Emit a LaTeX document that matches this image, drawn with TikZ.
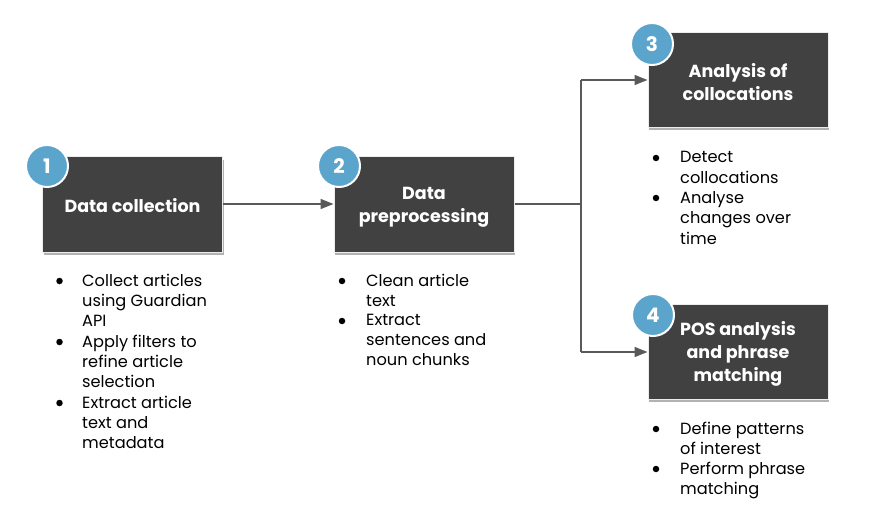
\documentclass[tikz,border=0pt]{standalone}
\usepackage{fontspec}
\setmainfont{Poppins}
\usetikzlibrary{arrows.meta,shadows}
\definecolor{boxfill}{HTML}{414141}
\definecolor{circfill}{HTML}{5BA4CB}
\definecolor{arrowgray}{HTML}{595959}
\tikzset{
  stepbox/.style={draw=white!85!gray, line width=1pt, fill=boxfill, minimum width=180pt, minimum height=95pt,
    inner sep=0pt, text=white, align=center, font=\fontsize{17.5}{23}\selectfont\bfseries,
    drop shadow={shadow xshift=1pt, shadow yshift=-3pt, opacity=0.3, fill=black}},
  boxtitle/.style={inner sep=0pt, text=white, align=center, font=\fontsize{17.5}{23}\selectfont\bfseries},
  numcirc/.style={circle, fill=circfill, draw=white, line width=2pt, minimum size=42pt, inner sep=0pt,
    text=white, font=\fontsize{20}{20}\selectfont\bfseries},
  bullets/.style={anchor=north west, inner sep=0pt, align=left, font=\fontsize{16.2}{20.3}\selectfont, text=black},
  dot/.style={circle, fill=black, minimum size=6.5pt, inner sep=0pt},
  conn/.style={draw=arrowgray, line width=1.5pt, -{Triangle[length=13pt,width=10pt]}},
  seg/.style={draw=arrowgray, line width=1.5pt}
}
\begin{document}
\begin{tikzpicture}[x=1pt,y=-1pt]
\useasboundingbox (0,0) rectangle (876,532);
% boxes
\node[stepbox] (b1) at (132.5,204.5) {};
\node[stepbox] (b2) at (424,204.5) {};
\node[stepbox] (b3) at (738,80) {};
\node[stepbox] (b4) at (738,351.5) {};
\node[boxtitle] (l1) at ([yshift=-1.5pt]b1.center) {Data collection};
\node[boxtitle] (l2) at ([yshift=-2.5pt]b2.center) {Data\\preprocessing};
\node[boxtitle] (l3) at ([yshift=-2pt]b3.center) {Analysis of\\collocations};
\node[boxtitle] (l4) at ([yshift=-2pt]b4.center) {POS analysis\\and phrase\\matching};
% numbers
\node[numcirc] (c1) at (47,166) {1};
\node[numcirc] (c2) at (339,166) {2};
\node[numcirc] (c3) at (652,44) {3};
\node[numcirc] (c4) at (653,315) {4};
% connectors
\coordinate (j) at (581,204);
\coordinate (j3) at (581,80);
\coordinate (j4) at (581,352);
\draw[conn] (b1.east |- 0,204) -- (b2.west |- 0,204);
\draw[seg] (b2.east |- j) -- (j);
\draw[seg] (j3) -- (j4);
\draw[conn] (j3) -- (b3.west |- j3);
\draw[conn] (j4) -- (b4.west |- j4);
% bullets box 1
\node[dot] (d11) at (59.5,281) {};
\node[dot] (d12) at (59.5,342) {};
\node[dot] (d13) at (59.5,403) {};
\node[bullets] (t11) at (82,273.5) {Collect articles\\using Guardian\\API};
\node[bullets] (t12) at (82,334.5) {Apply filters to\\refine article\\selection};
\node[bullets] (t13) at (82,395.5) {Extract article\\text and\\metadata};
% bullets box 2
\node[dot] (d21) at (342,281) {};
\node[dot] (d22) at (342,321) {};
\node[bullets] (t21) at (366,273.5) {Clean article\\text};
\node[bullets] (t22) at (366,313.5) {Extract\\sentences and\\noun chunks};
% bullets box 3
\node[dot] (d31) at (656,158) {};
\node[dot] (d32) at (656,198) {};
\node[bullets] (t31) at (680,151.5) {Detect\\collocations};
\node[bullets] (t32) at (680,191.5) {Analyse\\changes over\\time};
% bullets box 4
\node[dot] (d41) at (656,429) {};
\node[dot] (d42) at (656,469) {};
\node[bullets] (t41) at (680,421.5) {Define patterns\\of interest};
\node[bullets] (t42) at (680,461.5) {Perform phrase\\matching};
\end{tikzpicture}
\end{document}
